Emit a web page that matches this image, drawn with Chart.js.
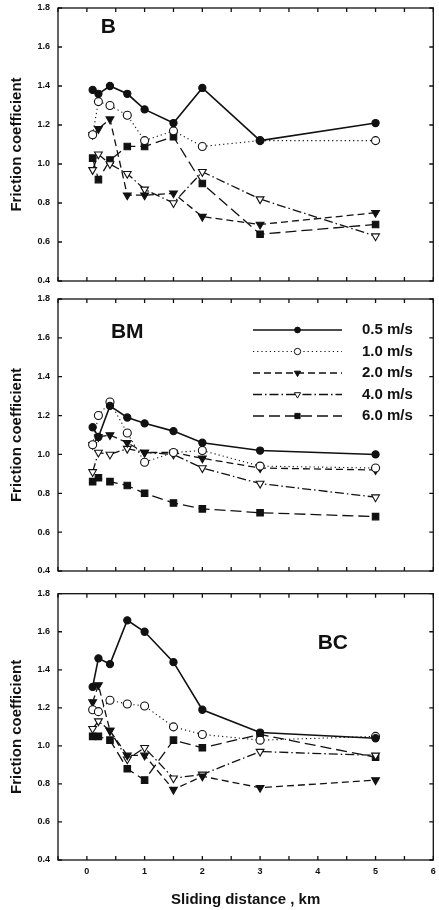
<!DOCTYPE html>
<html>
<head>
<meta charset="utf-8">
<script src="https://cdn.jsdelivr.net/npm/chart.js@4/dist/chart.umd.min.js"></script>
<style>
    html, body { margin: 0; padding: 0; background: #fff; }
    #hoja { position: relative; width: 439px; height: 910px; }
    canvas { position: absolute; left: 0; }
</style>
</head>
<body>
<div id="hoja">
    <canvas id="panelB" width="439" height="290" style="top:0px"></canvas>
    <canvas id="panelBM" width="439" height="298" style="top:290px"></canvas>
    <canvas id="panelBC" width="439" height="322" style="top:588px"></canvas>
</div>
<script>
// -----------------------------
// DATOS
// -----------------------------
const distancia = [0.1, 0.2, 0.4, 0.7, 1, 1.5, 2, 3, 5];
const velocidades = ["0.5 m/s", "1.0 m/s", "2.0 m/s", "4.0 m/s", "6.0 m/s"];
const ticksY = [0.4, 0.6, 0.8, 1.0, 1.2, 1.4, 1.6, 1.8];
const etiquetasX = [0, 1, 2, 3, 4, 5, 6];

// Panel B
const B_05 = [1.38, 1.36, 1.40, 1.36, 1.28, 1.21, 1.39, 1.12, 1.21];
const B_10 = [1.15, 1.32, 1.30, 1.25, 1.12, 1.17, 1.09, 1.12, 1.12];
const B_20 = [1.15, 1.18, 1.23, 0.84, 0.84, 0.85, 0.73, 0.69, 0.75];
const B_40 = [0.97, 1.05, 1.00, 0.95, 0.87, 0.80, 0.96, 0.82, 0.63];
const B_60 = [1.03, 0.92, 1.02, 1.09, 1.09, 1.14, 0.90, 0.64, 0.69];

// Panel BM
const BM_05 = [1.14, 1.09, 1.25, 1.19, 1.16, 1.12, 1.06, 1.02, 1.00];
const BM_10 = [1.05, 1.20, 1.27, 1.11, 0.96, 1.01, 1.02, 0.94, 0.93];
const BM_20 = [1.05, 1.09, 1.10, 1.06, 1.01, 1.01, 0.98, 0.93, 0.92];
const BM_40 = [0.91, 1.01, 1.00, 1.03, 1.01, 1.00, 0.93, 0.85, 0.78];
const BM_60 = [0.86, 0.88, 0.86, 0.84, 0.80, 0.75, 0.72, 0.70, 0.68];

// Panel BC
const BC_05 = [1.31, 1.46, 1.43, 1.66, 1.60, 1.44, 1.19, 1.07, 1.04];
const BC_10 = [1.19, 1.18, 1.24, 1.22, 1.21, 1.10, 1.06, 1.03, 1.05];
const BC_20 = [1.23, 1.32, 1.08, 0.95, 0.95, 0.77, 0.84, 0.78, 0.82];
const BC_40 = [1.09, 1.13, 1.08, 0.93, 0.99, 0.83, 0.85, 0.97, 0.95];
const BC_60 = [1.05, 1.05, 1.03, 0.88, 0.82, 1.03, 0.99, 1.06, 0.94];

// -----------------------------
// ESTILOS DE SERIE
// -----------------------------
const TINTA = "#111";

const estilos = [
    { dash: [], forma: "circle", giro: 0, radio: 3.6, relleno: TINTA, grosor: 1.6 },
    { dash: [1.2, 3], forma: "circle", giro: 0, radio: 4, relleno: "#fff", grosor: 1.1 },
    { dash: [7, 4], forma: "triangle", giro: 180, radio: 4.5, relleno: TINTA, grosor: 1.3 },
    { dash: [9, 3, 1.5, 3], forma: "triangle", giro: 180, radio: 4.5, relleno: "#fff", grosor: 1.3 },
    { dash: [11, 5], forma: "rect", giro: 0, radio: 4.6, relleno: TINTA, grosor: 1.3 }
];

function serie(i, valores) {
    const e = estilos[i];
    return {
        label: velocidades[i],
        data: distancia.map((d, k) => ({ x: d, y: valores[k] })),
        borderColor: TINTA,
        borderWidth: e.grosor,
        borderDash: e.dash,
        pointStyle: e.forma,
        rotation: e.giro,
        pointRadius: e.radio,
        pointBackgroundColor: e.relleno,
        pointBorderColor: TINTA,
        pointBorderWidth: 1.1,
        tension: 0,
        fill: false
    };
}

// -----------------------------
// PLUGINS
// -----------------------------
// Marco y marcas hacia dentro en los cuatro lados
const marcoPlugin = {
    id: "marco",
    afterDraw(chart) {
        const { ctx, chartArea: a, scales: { x, y } } = chart;
        ctx.save();
        ctx.strokeStyle = TINTA;
        ctx.lineWidth = 1.3;
        ctx.setLineDash([]);
        ctx.strokeRect(a.left, a.top, a.right - a.left, a.bottom - a.top);
        ctx.beginPath();
        x.ticks.forEach(t => {
            const px = x.getPixelForValue(t.value);
            ctx.moveTo(px, a.bottom); ctx.lineTo(px, a.bottom - 4);
            ctx.moveTo(px, a.top); ctx.lineTo(px, a.top + 4);
        });
        y.ticks.forEach(t => {
            const py = y.getPixelForValue(t.value);
            ctx.moveTo(a.left, py); ctx.lineTo(a.left + 4, py);
            ctx.moveTo(a.right, py); ctx.lineTo(a.right - 4, py);
        });
        ctx.stroke();
        ctx.restore();
    }
};

// Rótulo del material (B, BM, BC)
const rotuloPlugin = {
    id: "rotulo",
    afterDraw(chart, args, opts) {
        if (!opts.texto) return;
        const { ctx, scales: { x, y } } = chart;
        ctx.save();
        ctx.fillStyle = TINTA;
        ctx.font = "bold 21px 'Liberation Sans', Arial, sans-serif";
        ctx.textAlign = "center";
        ctx.textBaseline = "middle";
        ctx.fillText(opts.texto, x.getPixelForValue(opts.x), y.getPixelForValue(opts.y));
        ctx.restore();
    }
};

// Leyenda dentro del panel BM
const leyendaPlugin = {
    id: "leyenda",
    afterDraw(chart, args, opts) {
        if (!opts.mostrar) return;
        const { ctx } = chart;
        ctx.save();
        chart.data.datasets.forEach((ds, i) => {
            const yy = opts.y0 + i * opts.paso;
            ctx.strokeStyle = TINTA;
            ctx.lineWidth = ds.borderWidth;
            ctx.setLineDash(ds.borderDash);
            ctx.beginPath();
            ctx.moveTo(opts.x0, yy);
            ctx.lineTo(opts.x1, yy);
            ctx.stroke();
            ctx.setLineDash([]);
            ctx.fillStyle = ds.pointBackgroundColor;
            ctx.lineWidth = 1;
            Chart.helpers.drawPoint(ctx, {
                pointStyle: ds.pointStyle,
                rotation: ds.rotation,
                radius: ds.pointRadius * 0.8,
                borderWidth: 1
            }, (opts.x0 + opts.x1) / 2, yy);
            ctx.fillStyle = TINTA;
            ctx.font = "bold 15px 'Liberation Sans', Arial, sans-serif";
            ctx.textAlign = "left";
            ctx.textBaseline = "middle";
            ctx.fillText(ds.label, opts.xt, yy);
        });
        ctx.restore();
    }
};

// sin relleno automático por las etiquetas de los extremos
function sinRelleno(s) {
    s.paddingTop = 0;
    s.paddingBottom = 0;
    s.paddingLeft = 0;
    s.paddingRight = 0;
}

// -----------------------------
// GRÁFICOS
// -----------------------------
function pintarPanel(id, series, conf) {
    const ctx = document.getElementById(id);

    return new Chart(ctx, {
        type: "line",
        data: { datasets: series.map((v, i) => serie(i, v)) },
        options: {
            responsive: false,
            animation: false,
            devicePixelRatio: 1,
            layout: { padding: { top: conf.arriba, right: 3, left: 0, bottom: 0 } },
            plugins: {
                legend: { display: false },
                tooltip: { enabled: false },
                rotulo: conf.rotulo,
                leyenda: conf.leyenda || { mostrar: false }
            },
            scales: {
                x: {
                    type: "linear",
                    min: -0.5,
                    max: 6,
                    afterBuildTicks: s => {
                        s.ticks = [];
                        for (let v = -0.5; v <= 6; v += 0.5) s.ticks.push({ value: v });
                    },
                    afterFit: s => { s.height = conf.altoX; sinRelleno(s); },
                    grid: { display: false, drawTicks: false },
                    border: { display: false },
                    ticks: {
                        autoSkip: false,
                        maxRotation: 0,
                        padding: 6,
                        color: TINTA,
                        font: { family: "'Liberation Sans', Arial, sans-serif", size: 9, weight: "bold" },
                        callback: v => (conf.etiquetasX && etiquetasX.includes(v)) ? String(v) : ""
                    },
                    title: {
                        display: !!conf.etiquetasX,
                        text: "Sliding distance , km",
                        color: TINTA,
                        font: { family: "'Liberation Sans', Arial, sans-serif", size: 15, weight: "bold" },
                        padding: { top: 0, bottom: 1 }
                    }
                },
                y: {
                    min: 0.4,
                    max: 1.8,
                    afterBuildTicks: s => { s.ticks = ticksY.map(v => ({ value: v })); },
                    afterFit: s => { s.width = 58; sinRelleno(s); },
                    grid: { display: false, drawTicks: false },
                    border: { display: false },
                    ticks: {
                        padding: 8,
                        color: TINTA,
                        font: { family: "'Liberation Sans', Arial, sans-serif", size: 9, weight: "bold" },
                        callback: v => v.toFixed(1)
                    },
                    title: {
                        display: true,
                        text: "Friction coefficient",
                        color: TINTA,
                        font: { family: "'Liberation Sans', Arial, sans-serif", size: 15, weight: "bold" },
                        padding: { top: 8, bottom: 0 }
                    }
                }
            }
        },
        plugins: [marcoPlugin, rotuloPlugin, leyendaPlugin]
    });
}

pintarPanel("panelB", [B_05, B_10, B_20, B_40, B_60], {
    arriba: 8,
    altoX: 9,
    rotulo: { texto: "B", x: 0.37, y: 1.70 }
});

pintarPanel("panelBM", [BM_05, BM_10, BM_20, BM_40, BM_60], {
    arriba: 9,
    altoX: 17,
    rotulo: { texto: "BM", x: 0.7, y: 1.63 },
    leyenda: { mostrar: true, x0: 253, x1: 342, xt: 362, y0: 40, paso: 21.5 }
});

pintarPanel("panelBC", [BC_05, BC_10, BC_20, BC_40, BC_60], {
    arriba: 2.5,
    altoX: 50,
    etiquetasX: true,
    rotulo: { texto: "BC", x: 4.26, y: 1.54 }
});
</script>
</body>
</html>
